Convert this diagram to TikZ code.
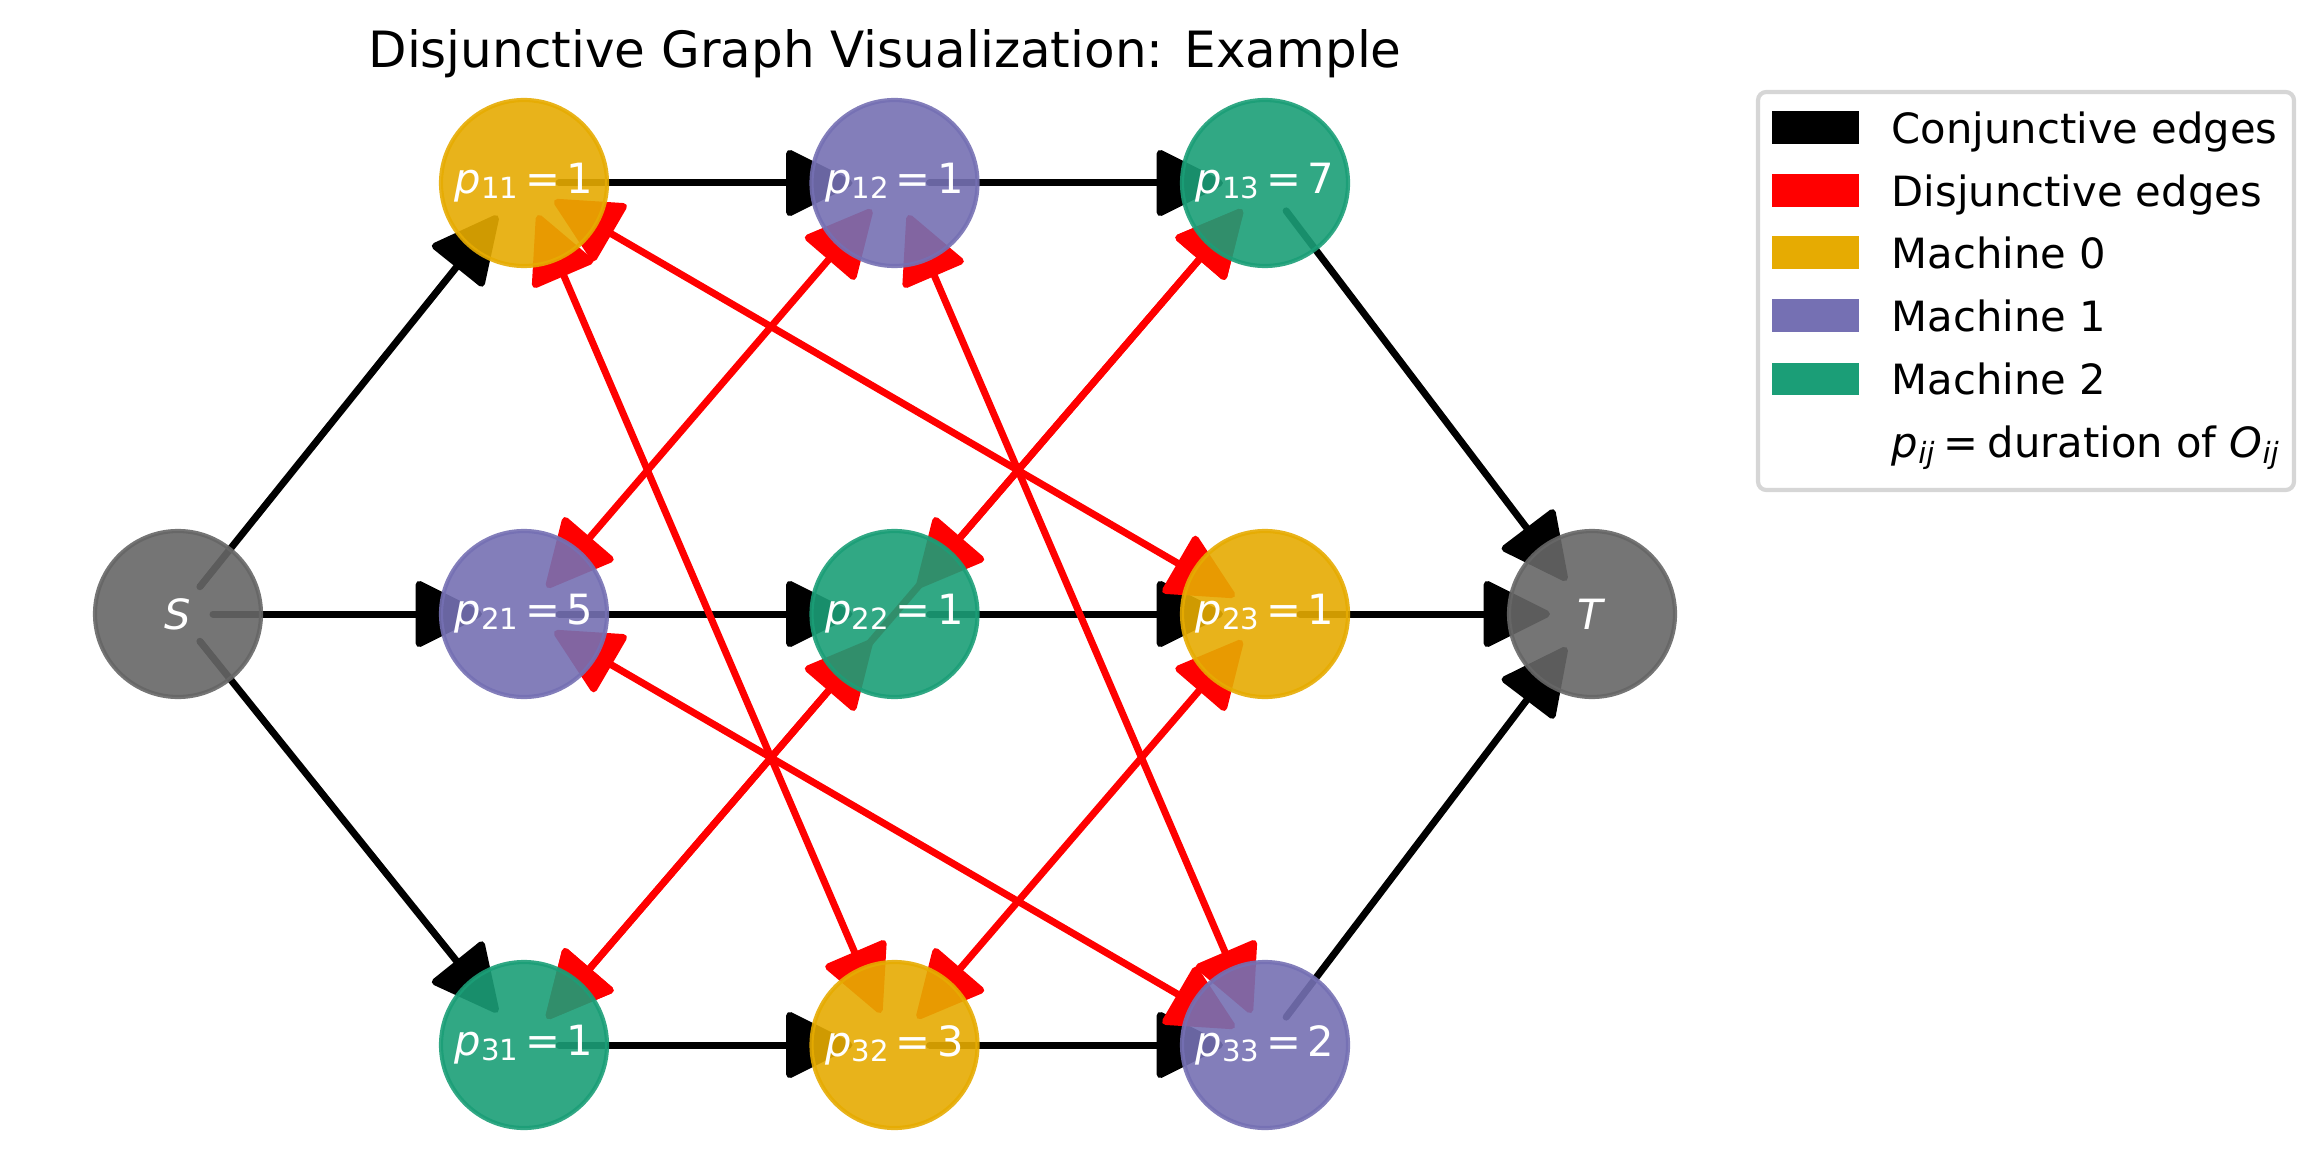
\documentclass[tikz,border=0pt]{standalone}
\usepackage{fontspec}
\setmainfont{DejaVu Sans}
\usetikzlibrary{arrows.meta}
\pgfdeclarelayer{bg}
\pgfsetlayers{bg,main}
\definecolor{mzero}{HTML}{E6AB02}
\definecolor{mone}{HTML}{7570B3}
\definecolor{mtwo}{HTML}{1B9E77}
\definecolor{stgray}{HTML}{666666}
\definecolor{legframe}{HTML}{D6D6D6}
\newcommand{\sbs}[1]{\raisebox{-1.2pt}{\fontsize{7}{7}\selectfont #1}}
\newcommand{\oplbl}[2]{\textit{p}\sbs{#1}\hspace{0.16em}=\hspace{0.16em}#2}
\begin{document}
\begin{tikzpicture}[x=0.24pt,y=-0.24pt,
  op/.style={circle, minimum size=39.84pt, inner sep=0pt, line width=1pt,
    draw=#1, fill=#1, fill opacity=0.9, draw opacity=0.9, text opacity=1,
    text=white, font=\fontsize{10}{12}\selectfont},
  conj/.style={draw=black, line width=1.68pt, line cap=round,
    -{Triangle[length=17pt,width=16.5pt,round]}, shorten <=8.4pt, shorten >=10.08pt},
  disj/.style={draw=red, line width=1.68pt,
    {Triangle[length=17pt,width=16.5pt,round]}-{Triangle[length=17pt,width=16.5pt,round]},
    shorten <=8.4pt, shorten >=8.4pt},
  legpatch/.style={fill=#1, minimum width=20.88pt, minimum height=7.92pt, inner sep=0pt},
  legtext/.style={anchor=base west, font=\fontsize{10}{12}\selectfont, inner sep=0pt},
]
\useasboundingbox (0,0) rectangle (2324,1166);

% title
\node[anchor=base, font=\fontsize{12}{14}\selectfont, inner sep=0pt] (title) at (885,68)
  {Disjunctive Graph Visualization: Example};

% nodes
\node[op=stgray] (S) at (178,614) {\textit{S}};
\node[op=stgray] (T) at (1592,614) {\textit{T}};
\node[op=mzero] (p11) at (524,183) {\oplbl{11}{1}};
\node[op=mone]  (p12) at (894.5,183) {\oplbl{12}{1}};
\node[op=mtwo]  (p13) at (1265,183) {\oplbl{13}{7}};
\node[op=mone]  (p21) at (524,614) {\oplbl{21}{5}};
\node[op=mtwo]  (p22) at (894.5,614) {\oplbl{22}{1}};
\node[op=mzero] (p23) at (1265,614) {\oplbl{23}{1}};
\node[op=mtwo]  (p31) at (524,1045) {\oplbl{31}{1}};
\node[op=mzero] (p32) at (894.5,1045) {\oplbl{32}{3}};
\node[op=mone]  (p33) at (1265,1045) {\oplbl{33}{2}};

\begin{pgfonlayer}{bg}
  % conjunctive edges
  \draw[conj] (S.center) -- (p11.center);
  \draw[conj] (S.center) -- (p21.center);
  \draw[conj] (S.center) -- (p31.center);
  \draw[conj] (p11.center) -- (p12.center);
  \draw[conj] (p12.center) -- (p13.center);
  \draw[conj] (p21.center) -- (p22.center);
  \draw[conj] (p22.center) -- (p23.center);
  \draw[conj] (p31.center) -- (p32.center);
  \draw[conj] (p32.center) -- (p33.center);
  \draw[conj] (p13.center) -- (T.center);
  \draw[conj] (p23.center) -- (T.center);
  \draw[conj] (p33.center) -- (T.center);
  % disjunctive edges
  \draw[disj] (p11.center) -- (p23.center);
  \draw[disj] (p11.center) -- (p32.center);
  \draw[disj] (p23.center) -- (p32.center);
  \draw[disj] (p12.center) -- (p21.center);
  \draw[disj] (p12.center) -- (p33.center);
  \draw[disj] (p21.center) -- (p33.center);
  \draw[disj] (p13.center) -- (p31.center);
  \draw[disj] (p13.center) -- (p22.center);
  \draw[disj] (p22.center) -- (p31.center);
\end{pgfonlayer}

% legend
\draw[legframe, line width=1pt, fill=white, rounded corners=2pt] (1758,92) rectangle (2294,490);
\node[legpatch=black] (lg1) at (1815.5,128) {};
\node[legpatch=red]   (lg2) at (1815.5,191) {};
\node[legpatch=mzero] (lg3) at (1815.5,253) {};
\node[legpatch=mone]  (lg4) at (1815.5,316) {};
\node[legpatch=mtwo]  (lg5) at (1815.5,379) {};
\node[legtext] (lt1) at (1891,144) {Conjunctive edges};
\node[legtext] (lt2) at (1891,207) {Disjunctive edges};
\node[legtext] (lt3) at (1891,269) {Machine 0};
\node[legtext] (lt4) at (1891,332) {Machine 1};
\node[legtext] (lt5) at (1891,395) {Machine 2};
\node[legtext] (lt6) at (1891,458)
  {\textit{p}\raisebox{-1.2pt}{\fontsize{7}{7}\selectfont\itshape ij}\hspace{0.22em}=\hspace{0.22em}duration of \textit{O}\raisebox{-1.2pt}{\fontsize{7}{7}\selectfont\itshape ij}};
\end{tikzpicture}
\end{document}
